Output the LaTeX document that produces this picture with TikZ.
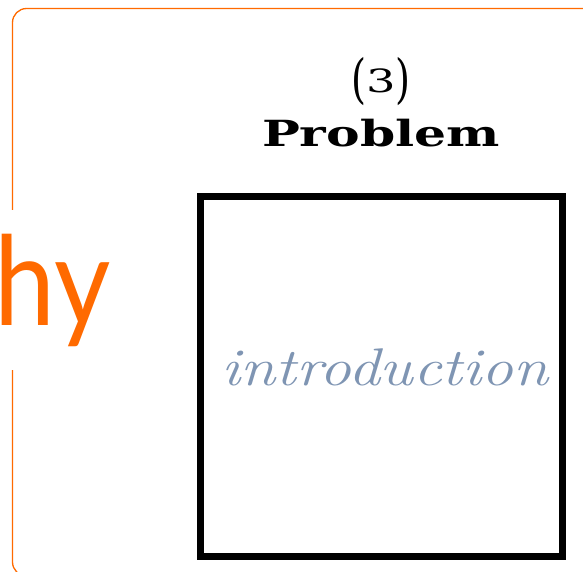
\documentclass[tikz,border=0pt]{standalone}
\usepackage{fontspec}
\newfontfamily\hyfont{Lato}
\newfontfamily\slabfont[Numbers=Lining]{DejaVu Serif}
\usetikzlibrary{positioning}
\definecolor{corange}{HTML}{FF6A00}
\definecolor{cslate}{HTML}{7F95B3}
\newcommand{\tallparen}[1]{\raisebox{-5pt}{\scalebox{1.2}[1.65]{#1}}}
\tikzset{
  every picture/.style={line width=1pt},
  frame/.style={draw=corange, line width=1.3pt, rounded corners=14pt},
  bigword/.style={font=\hyfont\fontsize{124}{124}\selectfont, text=corange, fill=white, inner xsep=0pt, inner ysep=24pt},
  heading/.style={font=\slabfont\fontsize{32}{32}\selectfont, inner sep=0pt},
  panel/.style={draw=black, line width=7pt, minimum width=362pt, minimum height=360pt},
  hand/.style={font=\itshape\fontsize{53}{53}\selectfont, text=cslate, inner sep=0pt},
}

\begin{document}
\begin{tikzpicture}[x=1pt, y=1pt]
  \useasboundingbox (0,0) rectangle (583,-572);
  \begin{scope}
    \clip (0,0) rectangle (583,-572);
    \draw[frame] (12.5,-8.5) rectangle (620,-576);
  \end{scope}
  \node[bigword, anchor=base west] (word) at (-6,-325) {\scalebox{0.88}[1]{hy}};
  \node[heading, anchor=base] (num) at (381,-93) {\tallparen{(}\scalebox{1.45}[1]{3}\tallparen{)}};
  \node[heading, anchor=base, font=\slabfont\fontsize{36}{36}\selectfont] (title) at (381,-147) {\scalebox{1.4}[1]{\bfseries Problem}};
  \node[panel] (box) at (381,-376) {};
  \node[hand, anchor=base] (intro) at (385,-385) {\scalebox{1.2}[1]{introduction}};
\end{tikzpicture}
\end{document}
